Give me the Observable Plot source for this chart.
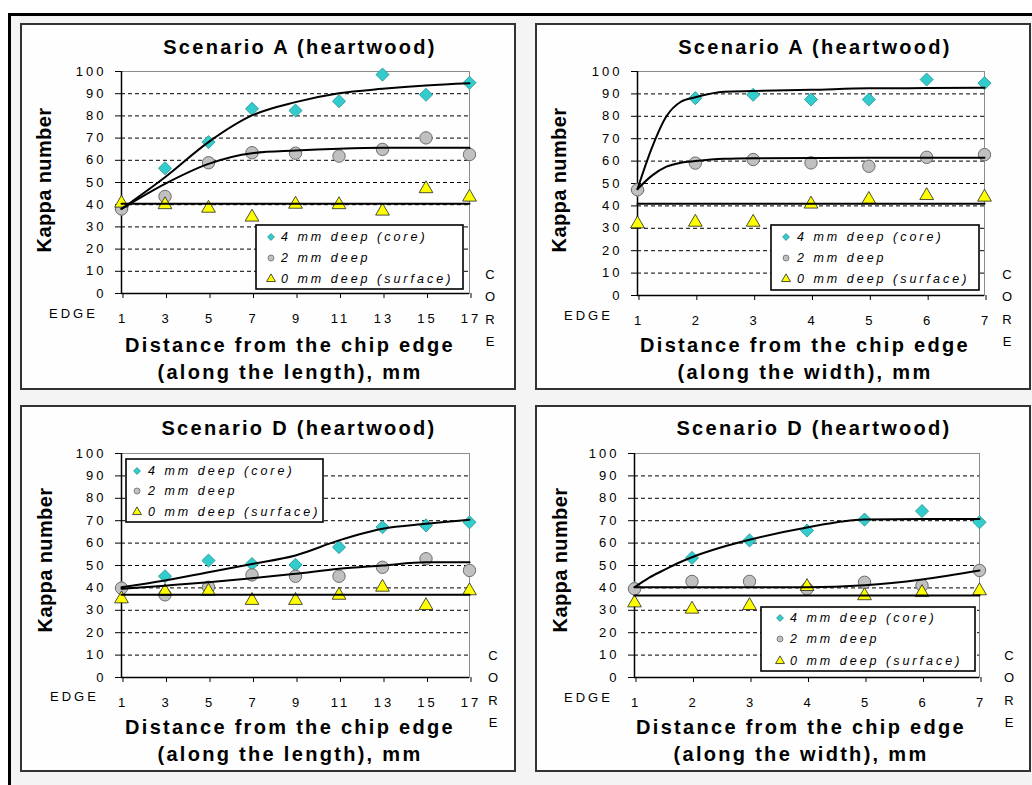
<!DOCTYPE html>
<html>
<head>
<meta charset="utf-8">
<script src="https://cdn.jsdelivr.net/npm/d3@7"></script>
<script src="https://cdn.jsdelivr.net/npm/@observablehq/plot@0.6"></script>
<style>
  html, body { margin: 0; padding: 0; background: #ffffff; width: 1032px; height: 785px; overflow: hidden; }
  #outer { position: absolute; left: 8px; top: 13px; width: 1024px; height: 772px; box-sizing: border-box;
           border-top: 3px solid #000; border-left: 3px solid #000; background: #f4f4f4; }
  .panel { position: absolute; width: 496px; height: 367px; background: #fefefe;
           box-shadow: inset 0 0 0 2px #333; font-family: "Liberation Sans", Arial, sans-serif; color: #000; }
  .panel svg.plot { position: absolute; left: 0; top: 0; }
  .title { position: absolute; left: 0; width: 560px; text-align: center; font-weight: bold; font-size: 20px;
           letter-spacing: 2.3px; line-height: 24px; white-space: nowrap; }
  .xtitle { position: absolute; width: 540px; text-align: center; font-weight: bold; font-size: 20px;
            letter-spacing: 2.3px; line-height: 24px; white-space: nowrap; }
  .ytitle { position: absolute; width: 200px; text-align: center; font-weight: bold; font-size: 20px;
            letter-spacing: 0.4px; line-height: 24px; white-space: nowrap; transform: rotate(-90deg); }
  .edge { position: absolute; font-size: 13px; letter-spacing: 3px; line-height: 16px; }
  .core { position: absolute; width: 20px; text-align: center; font-size: 13px; line-height: 22.3px; }
  .legend { position: absolute; }
</style>
</head>
<body>
<div id="outer"></div>
<script>
// ---------- data ----------
const xLength = [1, 3, 5, 7, 9, 11, 13, 15, 17];
const xWidth = [1, 2, 3, 4, 5, 6, 7];
const xWidthFit = [1, 1.25, 1.5, 1.75, 2, 2.5, 3, 4, 5, 6, 7];
const yTicks = [0, 10, 20, 30, 40, 50, 60, 70, 80, 90, 100];
const gridLevels = [10, 20, 30, 40, 50, 60, 70, 80, 90];
const seriesNames = ["4 mm deep (core)", "2 mm deep", "0 mm deep (surface)"];
const edgeLabel = "EDGE";
const coreLabel = ["C", "O", "R", "E"];
const yTitle = "Kappa number";
const xTitleLine1 = "Distance from the chip edge";
const xTitleLenLine2 = "(along the length), mm";
const xTitleWidLine2 = "(along the width), mm";
const titleA = "Scenario A (heartwood)";
const titleD = "Scenario D  (heartwood)";

// Scenario A, along the length
const aLenCore = [38, 56.4, 68.2, 83.2, 82.4, 86.6, 98.6, 89.5, 94.9];
const aLen2mm = [38.1, 43.7, 58.9, 63.4, 63.2, 61.9, 64.9, 70.1, 62.6];
const aLenSurf = [40.7, 40, 38.4, 34.4, 40.2, 40, 37.1, 47.2, 43.4];
const aLenCoreFit = [38.1, 52.4, 68.2, 80.2, 86.2, 90.2, 92.2, 93.7, 94.7];
const aLen2mmFit = [38.1, 49.4, 58.4, 63.2, 64.4, 65.2, 65.6, 65.6, 65.6];
const aLenSurfFit = [40.4, 40.4, 40.4, 40.4, 40.4, 40.4, 40.4, 40.4, 40.4];

// Scenario A, along the width
const aWidCore = [47, 88.1, 89.6, 87.5, 87.5, 96.4, 94.8];
const aWid2mm = [47.2, 59.1, 60.7, 59.2, 57.7, 61.7, 62.9];
const aWidSurf = [32, 32.7, 32.7, 40.8, 42.9, 44.6, 43.9];
const aWidCoreFit = [47.5, 66, 80, 86.5, 88.5, 91, 91.3, 91.8, 92.5, 92.6, 92.7];
const aWid2mmFit = [47.5, 53.5, 57.5, 59.3, 60, 61, 61.3, 61.4, 61.5, 61.5, 61.5];
const aWidSurfFit = [41, 41, 41, 41, 41, 41, 41, 41, 41, 41, 41];

// Scenario D, along the length
const dLenCore = [40, 45.2, 52.2, 50.7, 50.3, 58.2, 67.1, 67.9, 69.3];
const dLen2mm = [39.9, 36.9, 40.3, 45.8, 45.2, 45.2, 49.2, 53, 47.8];
const dLenSurf = [35.1, 38.4, 38.5, 34.4, 34.4, 36.7, 40.3, 32.1, 38.7];
const dLenCoreFit = [40.3, 43.3, 47, 50.7, 54.5, 61.2, 66.4, 68.6, 70.4];
const dLen2mmFit = [39.6, 41, 42.5, 44.3, 46.3, 48.5, 50, 51.5, 51.5];
const dLenSurfFit = [36.9, 36.9, 36.9, 36.9, 36.9, 36.9, 36.9, 36.9, 36.9];

// Scenario D, along the width
const dWidCore = [40, 53.4, 61.2, 65.6, 70.5, 74.3, 69.3];
const dWid2mm = [39.6, 42.9, 42.9, 39.6, 42.5, 41.1, 47.8];
const dWidSurf = [33.3, 30.5, 32.1, 40.6, 36.5, 37.9, 38.7];
const dWidCoreFit = [40.3, 44.5, 47.8, 51, 53.7, 58, 61.5, 67, 70.5, 70.8, 70.8];
const dWid2mmFit = [40.3, 40.3, 40.3, 40.3, 40.3, 40.3, 40.3, 40.3, 41.2, 43.8, 47.8];
const dWidSurfFit = [36.6, 36.6, 36.6, 36.6, 36.6, 36.6, 36.6, 36.6, 36.6, 36.6, 36.6];

// ---------- styles ----------
const COL = {
  core: {fill: "#33cccc", stroke: "#23908f"},
  mid: {fill: "#c0c0c0", stroke: "#6c6c6c"},
  surf: {fill: "#ffff00", stroke: "#222222"}
};
const FONT = '"Liberation Sans", Arial, sans-serif';

const pts = (xs, ys) => xs.map((x, i) => ({x, y: ys[i]}));

function makePanel(cfg) {
  const div = document.createElement("div");
  div.className = "panel";
  div.style.left = cfg.left + "px";
  div.style.top = cfg.top + "px";
  document.body.appendChild(div);

  const xs = cfg.xs;
  const chart = Plot.plot({
    width: 496, height: 367,
    marginLeft: cfg.m[0], marginRight: cfg.m[1], marginTop: cfg.m[2], marginBottom: cfg.m[3],
    x: {domain: [xs[0], xs[xs.length - 1]]},
    y: {domain: [0, 100]},
    style: `font-family: ${FONT}; font-size: 13px; letter-spacing: 3px; background: transparent; color: #000; overflow: visible;`,
    marks: [
      Plot.frame({stroke: "#8c8c8c"}),
      Plot.ruleY(gridLevels, {stroke: "#000", strokeDasharray: "4,3", strokeWidth: 1}),
      Plot.ruleY([0], {stroke: "#000", strokeWidth: 1.5}),
      Plot.ruleX([xs[0]], {stroke: "#000", strokeWidth: 1.5}),
      Plot.axisY({ticks: yTicks, tickSize: 6, tickPadding: 9, label: null, tickFormat: d => String(d),
                  fontSize: 13, fontFamily: FONT}),
      Plot.axisX({ticks: xs, tickSize: 5, tickPadding: 15, label: null, tickFormat: d => String(d), dx: 1.5,
                  fontSize: 13, fontFamily: FONT}),
      Plot.dot(pts(xs, cfg.core), {x: "x", y: "y", symbol: "diamond2", r: 5.9, fill: COL.core.fill, stroke: COL.core.stroke, strokeWidth: 0.8}),
      Plot.dot(pts(xs, cfg.mid), {x: "x", y: "y", symbol: "circle", r: 6.2, fill: COL.mid.fill, stroke: COL.mid.stroke, strokeWidth: 1}),
      Plot.dot(pts(xs, cfg.surf), {x: "x", y: "y", symbol: "triangle", r: 5.1, fill: COL.surf.fill, stroke: COL.surf.stroke, strokeWidth: 0.8}),
      Plot.line(pts(cfg.xf, cfg.coreFit), {x: "x", y: "y", stroke: "#000", strokeWidth: 2, curve: "monotone-x"}),
      Plot.line(pts(cfg.xf, cfg.midFit), {x: "x", y: "y", stroke: "#000", strokeWidth: 2, curve: "monotone-x"}),
      Plot.line(pts(cfg.xf, cfg.surfFit), {x: "x", y: "y", stroke: "#000", strokeWidth: 2, curve: "monotone-x"})
    ]
  });
  chart.classList.add("plot");
  div.appendChild(chart);

  // title
  const t = document.createElement("div");
  t.className = "title"; t.textContent = cfg.title;
  t.style.top = (cfg.titleY - 12) + "px";
  t.style.left = (cfg.titleX - 280) + "px";
  div.appendChild(t);

  // x title
  [[cfg.xt1, cfg.xtY1], [cfg.xt2, cfg.xtY2]].forEach(([txt, y]) => {
    const e = document.createElement("div");
    e.className = "xtitle"; e.textContent = txt;
    e.style.left = (cfg.xtX - 270) + "px";
    e.style.top = (y - 12) + "px";
    div.appendChild(e);
  });

  // y title
  const yt = document.createElement("div");
  yt.className = "ytitle"; yt.textContent = yTitle;
  yt.style.left = (cfg.ytX - 100) + "px";
  yt.style.top = (cfg.ytY - 12) + "px";
  div.appendChild(yt);

  // EDGE
  const ed = document.createElement("div");
  ed.className = "edge"; ed.textContent = edgeLabel;
  ed.style.left = cfg.edgeX + "px"; ed.style.top = (cfg.edgeY - 8) + "px";
  div.appendChild(ed);

  // CORE
  const co = document.createElement("div");
  co.className = "core"; co.innerHTML = coreLabel.join("<br>");
  co.style.left = (cfg.coreX - 10) + "px"; co.style.top = (cfg.coreY - 11) + "px";
  div.appendChild(co);

  // legend
  const L = cfg.legend;
  const svg = d3.create("svg").attr("class", "legend").attr("width", L.w).attr("height", L.h)
    .style("left", L.x + "px").style("top", L.y + "px");
  svg.append("rect").attr("x", 1).attr("y", 1).attr("width", L.w - 2).attr("height", L.h - 2)
    .attr("fill", "#fff").attr("stroke", "#000").attr("stroke-width", 1.6);
  const syms = [
    {type: d3.symbolDiamond2, size: 30, c: COL.core},
    {type: d3.symbolCircle, size: 28, c: COL.mid},
    {type: d3.symbolTriangle, size: 34, c: COL.surf}
  ];
  seriesNames.forEach((name, i) => {
    const cy = L.rows[i];
    svg.append("path").attr("d", d3.symbol(syms[i].type, syms[i].size)())
      .attr("transform", `translate(${L.sx},${cy})`)
      .attr("fill", syms[i].c.fill).attr("stroke", syms[i].c.stroke).attr("stroke-width", 0.8);
    svg.append("text").attr("x", L.tx).attr("y", cy).attr("dy", "0.35em")
      .attr("font-family", FONT).attr("font-size", 12.5)
      .attr("font-style", "italic").attr("letter-spacing", 3).attr("fill", "#000").text(name);
  });
  div.appendChild(svg.node());
}

makePanel({
  left: 20, top: 23, m: [101, 47, 48, 97], xs: xLength, xf: xLength,
  core: aLenCore, mid: aLen2mm, surf: aLenSurf, coreFit: aLenCoreFit, midFit: aLen2mmFit, surfFit: aLenSurfFit,
  title: titleA, titleX: 280, titleY: 24, xt1: xTitleLine1, xt2: xTitleLenLine2, xtX: 270, xtY1: 322, xtY2: 349,
  ytX: 24, ytY: 157, edgeX: 29, edgeY: 291, coreX: 470, coreY: 252,
  legend: {x: 235, y: 201, w: 209, h: 66, sx: 16, tx: 26, rows: [13, 34, 55]}
});
makePanel({
  left: 535, top: 23, m: [102, 47, 48, 95], xs: xWidth, xf: xWidthFit,
  core: aWidCore, mid: aWid2mm, surf: aWidSurf, coreFit: aWidCoreFit, midFit: aWid2mmFit, surfFit: aWidSurfFit,
  title: titleA, titleX: 280, titleY: 24, xt1: xTitleLine1, xt2: xTitleWidLine2, xtX: 270, xtY1: 322, xtY2: 349,
  ytX: 24, ytY: 157, edgeX: 29, edgeY: 293, coreX: 472, coreY: 252,
  legend: {x: 235, y: 201, w: 210, h: 67, sx: 16, tx: 27, rows: [13, 34, 55]}
});
makePanel({
  left: 20, top: 405, m: [101, 47, 48, 95], xs: xLength, xf: xLength,
  core: dLenCore, mid: dLen2mm, surf: dLenSurf, coreFit: dLenCoreFit, midFit: dLen2mmFit, surfFit: dLenSurfFit,
  title: titleD, titleX: 279, titleY: 23, xt1: xTitleLine1, xt2: xTitleLenLine2, xtX: 270, xtY1: 322, xtY2: 349,
  ytX: 25, ytY: 155, edgeX: 30, edgeY: 292, coreX: 473, coreY: 251,
  legend: {x: 105, y: 53, w: 199, h: 65, sx: 12, tx: 23, rows: [13, 33, 54]}
});
makePanel({
  left: 535, top: 405, m: [99, 52, 48, 95], xs: xWidth, xf: xWidthFit,
  core: dWidCore, mid: dWid2mm, surf: dWidSurf, coreFit: dWidCoreFit, midFit: dWid2mmFit, surfFit: dWidSurfFit,
  title: titleD, titleX: 279, titleY: 23, xt1: xTitleLine1, xt2: xTitleWidLine2, xtX: 266, xtY1: 322, xtY2: 349,
  ytX: 25, ytY: 155, edgeX: 29, edgeY: 293, coreX: 474, coreY: 251,
  legend: {x: 225, y: 201, w: 216, h: 66, sx: 20, tx: 30, rows: [12, 33, 55]}
});
</script>
</body>
</html>
